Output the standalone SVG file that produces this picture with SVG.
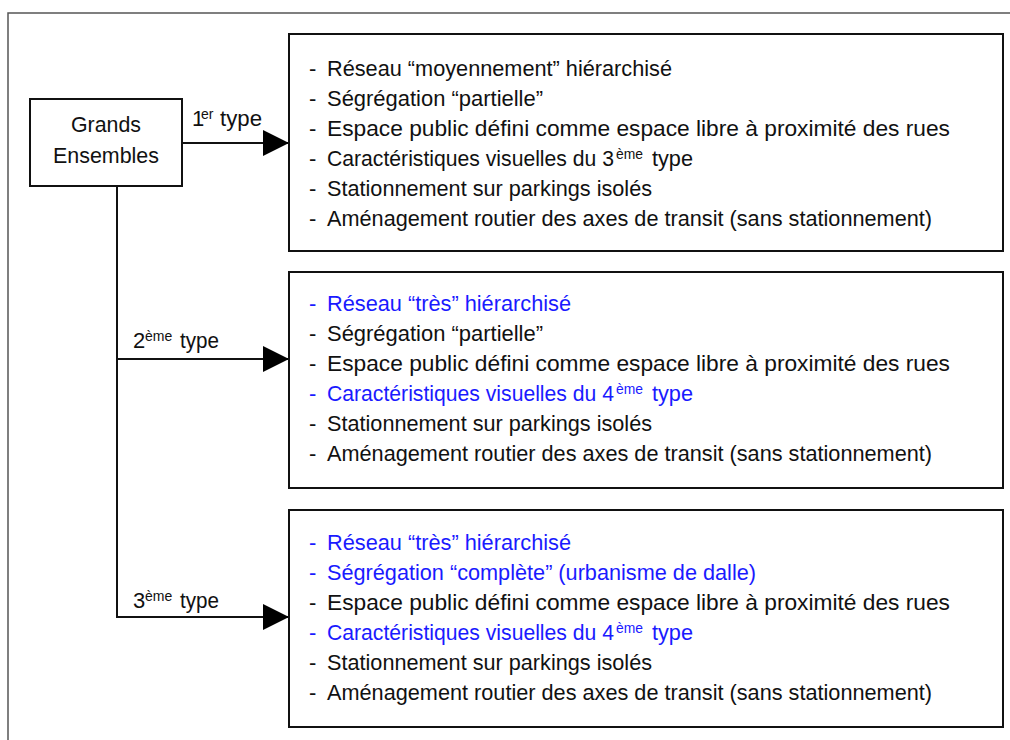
<svg xmlns="http://www.w3.org/2000/svg" width="1010" height="740" viewBox="0 0 1010 740">
<style>
text{font-family:"Liberation Sans",Arial,sans-serif;font-size:22px;fill:#111}
.b{fill:#1a1aff}
.box{fill:#fff;stroke:#111;stroke-width:2}
.ln{stroke:#111;stroke-width:2;fill:none}
text.sup{font-size:14px}
</style>
<defs>
<marker id="ah" markerUnits="userSpaceOnUse" viewBox="0 0 26 26" refX="26" refY="13" markerWidth="26" markerHeight="26" orient="auto">
<path d="M0,0 L26,13 L0,26 Z" fill="#000"/>
</marker>
</defs>
<rect width="1010" height="740" fill="#fff"/>
<g id="frame">
<path d="M8,740 V13 H1010" fill="none" stroke="#555" stroke-width="1.5"/>
</g>
<g id="connectors">
<line class="ln" x1="182" y1="143" x2="289" y2="143" marker-end="url(#ah)"/>
<polyline class="ln" points="117,186 117,617"/>
<line class="ln" x1="117" y1="359" x2="289" y2="359" marker-end="url(#ah)"/>
<line class="ln" x1="116" y1="617" x2="289" y2="617" marker-end="url(#ah)"/>
<text x="192" y="126">1</text><text class="sup" x="201" y="119">er</text><text x="220" y="126" textLength="42" lengthAdjust="spacingAndGlyphs">type</text>
<text x="133" y="348">2</text><text class="sup" x="145" y="341">ème</text><text x="180" y="348" textLength="39" lengthAdjust="spacingAndGlyphs">type</text>
<text x="133" y="608">3</text><text class="sup" x="145" y="601">ème</text><text x="180" y="608" textLength="39" lengthAdjust="spacingAndGlyphs">type</text>
</g>
<g id="grands-ensembles">
<rect class="box" x="30" y="99" width="152" height="87"/>
<text x="106" y="132" text-anchor="middle" textLength="70" lengthAdjust="spacingAndGlyphs">Grands</text>
<text x="106" y="163" text-anchor="middle" textLength="106" lengthAdjust="spacingAndGlyphs">Ensembles</text>
</g>
<g id="type1">
<rect class="box" x="289" y="34" width="714" height="217"/>
<text x="309" y="76">-</text><text x="327" y="76" textLength="345" lengthAdjust="spacingAndGlyphs">Réseau “moyennement” hiérarchisé</text>
<text x="309" y="106">-</text><text x="327" y="106" textLength="216" lengthAdjust="spacingAndGlyphs">Ségrégation “partielle”</text>
<text x="309" y="136">-</text><text x="327" y="136" textLength="623" lengthAdjust="spacingAndGlyphs">Espace public défini comme espace libre à proximité des rues</text>
<text x="309" y="166">-</text><text x="327" y="166" textLength="287" lengthAdjust="spacingAndGlyphs">Caractéristiques visuelles du 3</text><text class="sup" x="616" y="159" textLength="27" lengthAdjust="spacingAndGlyphs">ème</text><text x="652" y="166" textLength="41" lengthAdjust="spacingAndGlyphs">type</text>
<text x="309" y="196">-</text><text x="327" y="196" textLength="325" lengthAdjust="spacingAndGlyphs">Stationnement sur parkings isolés</text>
<text x="309" y="226">-</text><text x="327" y="226" textLength="605" lengthAdjust="spacingAndGlyphs">Aménagement routier des axes de transit (sans stationnement)</text>
</g>
<g id="type2">
<rect class="box" x="289" y="272" width="714" height="216"/>
<text class="b" x="309" y="311">-</text><text class="b" x="327" y="311" textLength="244" lengthAdjust="spacingAndGlyphs">Réseau “très” hiérarchisé</text>
<text x="309" y="341">-</text><text x="327" y="341" textLength="216" lengthAdjust="spacingAndGlyphs">Ségrégation “partielle”</text>
<text x="309" y="371">-</text><text x="327" y="371" textLength="623" lengthAdjust="spacingAndGlyphs">Espace public défini comme espace libre à proximité des rues</text>
<text class="b" x="309" y="401">-</text><text class="b" x="327" y="401" textLength="287" lengthAdjust="spacingAndGlyphs">Caractéristiques visuelles du 4</text><text class="sup b" x="616" y="394" textLength="27" lengthAdjust="spacingAndGlyphs">ème</text><text class="b" x="652" y="401" textLength="41" lengthAdjust="spacingAndGlyphs">type</text>
<text x="309" y="431">-</text><text x="327" y="431" textLength="325" lengthAdjust="spacingAndGlyphs">Stationnement sur parkings isolés</text>
<text x="309" y="461">-</text><text x="327" y="461" textLength="605" lengthAdjust="spacingAndGlyphs">Aménagement routier des axes de transit (sans stationnement)</text>
</g>
<g id="type3">
<rect class="box" x="289" y="510" width="714" height="217"/>
<text class="b" x="309" y="550">-</text><text class="b" x="327" y="550" textLength="244" lengthAdjust="spacingAndGlyphs">Réseau “très” hiérarchisé</text>
<text class="b" x="309" y="580">-</text><text class="b" x="327" y="580" textLength="429" lengthAdjust="spacingAndGlyphs">Ségrégation “complète” (urbanisme de dalle)</text>
<text x="309" y="610">-</text><text x="327" y="610" textLength="623" lengthAdjust="spacingAndGlyphs">Espace public défini comme espace libre à proximité des rues</text>
<text class="b" x="309" y="640">-</text><text class="b" x="327" y="640" textLength="287" lengthAdjust="spacingAndGlyphs">Caractéristiques visuelles du 4</text><text class="sup b" x="616" y="633" textLength="27" lengthAdjust="spacingAndGlyphs">ème</text><text class="b" x="652" y="640" textLength="41" lengthAdjust="spacingAndGlyphs">type</text>
<text x="309" y="670">-</text><text x="327" y="670" textLength="325" lengthAdjust="spacingAndGlyphs">Stationnement sur parkings isolés</text>
<text x="309" y="700">-</text><text x="327" y="700" textLength="605" lengthAdjust="spacingAndGlyphs">Aménagement routier des axes de transit (sans stationnement)</text>
</g>
</svg>
